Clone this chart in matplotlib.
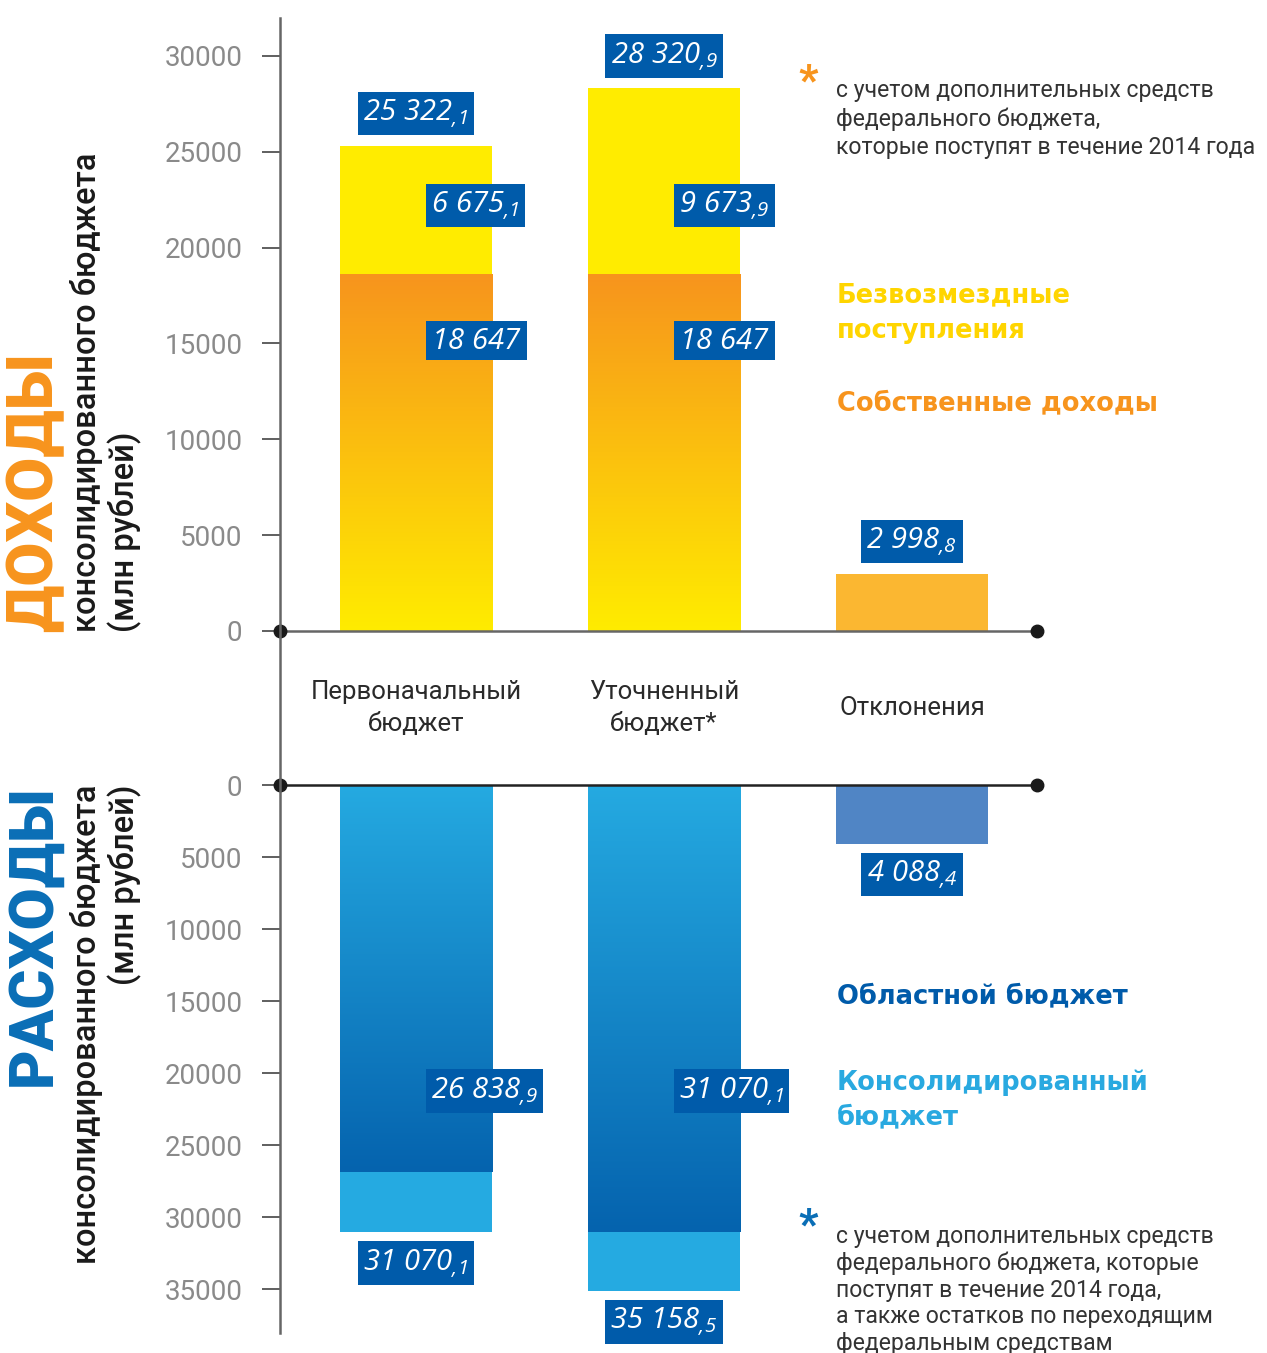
import numpy as np
import matplotlib
matplotlib.use("Agg")
import matplotlib.pyplot as plt
from matplotlib.lines import Line2D
from matplotlib.colors import to_rgb

plt.rcParams['font.family'] = ['Roboto', 'DejaVu Sans']
plt.rcParams['mathtext.fontset'] = 'custom'
plt.rcParams['mathtext.rm'] = 'Open Sans:italic'
plt.rcParams['mathtext.it'] = 'Open Sans:italic'

# --- data -------------------------------------------------------------
categories = ['Первоначальный\nбюджет', 'Уточненный\nбюджет*', 'Отклонения']

own_income = [18647.0, 18647.0]          # собственные доходы
gratis_income = [6675.1, 9673.9]         # безвозмездные поступления
income_total = [25322.1, 28320.9]
income_dev = 2998.8

regional_spend = [26838.9, 31070.1]      # областной бюджет
consolidated_spend = [31070.1, 35158.5]  # консолидированный бюджет
spend_dev = 4088.4

income_labels_total = [r'$25\ 322_{{,}1}$', r'$28\ 320_{{,}9}$', r'$2\ 998_{{,}8}$']
income_labels_gratis = [r'$6\ 675_{{,}1}$', r'$9\ 673_{{,}9}$']
income_labels_own = [r'$18\ 647$', r'$18\ 647$']
spend_labels_regional = [r'$26\ 838_{{,}9}$', r'$31\ 070_{{,}1}$']
spend_labels_total = [r'$31\ 070_{{,}1}$', r'$35\ 158_{{,}5}$', r'$4\ 088_{{,}4}$']

# --- colours ----------------------------------------------------------
ORANGE = '#F7941D'
YELLOW = '#FFEC00'
DEV_ORANGE = '#FBB731'
LIGHT_BLUE = '#25AAE1'
DARK_BLUE = '#0563AE'
DEV_BLUE = '#5085C5'
BOX_BLUE = '#005BAA'
HEAD_FONT = ['DejaVu Sans']

W, H = 1267, 1353
fig = plt.figure(figsize=(W / 100, H / 100), dpi=100)


def px_axes(l, t, r, b):
    return fig.add_axes([l / W, 1 - b / H, (r - l) / W, (b - t) / H])


ax_top = px_axes(280, 18, 1037, 631)
ax_bot = px_axes(280, 785, 1037, 1333)

x = np.arange(3)
bar_w = 0.613
xlim = (-0.548, 2.504)


def gradient_bar(ax, xc, y0, y1, c_start, c_end):
    # c_start at y0, c_end at y1
    bar = ax.bar(xc, y1 - y0, bottom=y0, width=bar_w, color='none', lw=0)[0]
    a = np.array(to_rgb(c_start))
    b = np.array(to_rgb(c_end))
    t = np.linspace(0, 1, 256)[:, None]
    img = (a + (b - a) * t)[:, None, :]
    im = ax.imshow(img, extent=(xc - bar_w / 2, xc + bar_w / 2, y0, y1),
                   origin='lower', aspect='auto', interpolation='bilinear', zorder=2)
    im.set_clip_path(bar)


def box_label(ax, xv, yv, text, ha='center', dy=0):
    ax.annotate(text, (xv, yv), xytext=(0, dy), textcoords='offset points',
                ha=ha, va='center', color='white', fontsize=21,
                bbox=dict(boxstyle='square,pad=0.18', fc=BOX_BLUE, ec='none'),
                zorder=5, annotation_clip=False)


# --- income -----------------------------------------------------------
for i in range(2):
    gradient_bar(ax_top, x[i], 0, own_income[i], YELLOW, ORANGE)
    ax_top.bar(x[i], gratis_income[i], bottom=own_income[i], width=bar_w,
               color=YELLOW, lw=0, zorder=2)
ax_top.bar(x[2], income_dev, width=bar_w, color=DEV_ORANGE, lw=0, zorder=2)

tops = income_total + [income_dev]
for i in range(3):
    box_label(ax_top, x[i], tops[i], income_labels_total[i], dy=23)
for i in range(2):
    box_label(ax_top, x[i] + 0.06, 22200, income_labels_gratis[i], ha='left')
    box_label(ax_top, x[i] + 0.06, 15150, income_labels_own[i], ha='left')

ax_top.set_xlim(*xlim)
ax_top.set_ylim(0, 31980)
ax_top.set_yticks(np.arange(0, 30001, 5000))

# --- spending ---------------------------------------------------------
for i in range(2):
    gradient_bar(ax_bot, x[i], 0, regional_spend[i], LIGHT_BLUE, DARK_BLUE)
    ax_bot.bar(x[i], consolidated_spend[i] - regional_spend[i],
               bottom=regional_spend[i], width=bar_w, color=LIGHT_BLUE, lw=0, zorder=2)
ax_bot.bar(x[2], spend_dev, width=bar_w, color=DEV_BLUE, lw=0, zorder=2)

ends = consolidated_spend + [spend_dev]
for i in range(3):
    box_label(ax_bot, x[i], ends[i], spend_labels_total[i], dy=-22)
for i in range(2):
    box_label(ax_bot, x[i] + 0.06, 21250, spend_labels_regional[i], ha='left')

ax_bot.set_xlim(*xlim)
ax_bot.set_ylim(38050, 0)
ax_bot.set_yticks(np.arange(0, 35001, 5000))

# --- axes styling -----------------------------------------------------
for ax, lc in ((ax_top, '#666666'), (ax_bot, '#222222')):
    for s in ax.spines.values():
        s.set_visible(False)
    ax.set_xticks([])
    ax.tick_params(axis='y', direction='out', length=13, width=1.2, color='#444444',
                   pad=14, labelsize=20, labelcolor='#8a8a8a')
    ax.plot(xlim, [0, 0], color=lc, lw=1.8, marker='o', ms=9,
            mfc='#1a1a1a', mec='#1a1a1a', clip_on=False, zorder=6)

fig.add_artist(Line2D([280 / W, 280 / W], [1 - 18 / H, 1 - 1333 / H],
                      color='#666666', lw=1.8))

for i, cat in enumerate(categories):
    ax_top.text(x[i], -(708 - 631) / 613, cat, transform=ax_top.get_xaxis_transform(),
                ha='center', va='center', fontsize=18.5,
                color='#2a2a2a', linespacing=1.45)

# --- side titles ------------------------------------------------------
fig.text(34 / W, 1 - 632 / H, 'ДОХОДЫ', rotation=90, ha='center', va='bottom',
         fontsize=46, fontweight='black', color=ORANGE)
fig.text(106 / W, 1 - 632 / H, 'консолидированного бюджета\n(млн рублей)', rotation=90,
         ha='center', va='bottom', multialignment='left', fontsize=23.5,
         fontweight='medium', color='#1a1a1a', linespacing=1.15)
fig.text(34 / W, 1 - 785 / H, 'РАСХОДЫ', rotation=90, ha='center', va='top',
         fontsize=44, fontweight='black', color='#0A6EB6')
fig.text(106 / W, 1 - 785 / H, 'консолидированного бюджета\n(млн рублей)', rotation=90,
         ha='center', va='top', multialignment='right', fontsize=23.5,
         fontweight='medium', color='#1a1a1a', linespacing=1.15)

# --- right-hand notes -------------------------------------------------
fig.text(808 / W, 1 - 82 / H, '*', ha='center', va='center', fontsize=30,
         fontweight='black', color=ORANGE)
fig.text(836 / W, 1 - 119 / H,
         'с учетом дополнительных средств\nфедерального бюджета,\n'
         'которые поступят в течение 2014 года',
         ha='left', va='center', fontsize=16.6, color='#333333', linespacing=1.3)
fig.text(837 / W, 1 - 313 / H, 'Безвозмездные\nпоступления', ha='left', va='center',
         family=HEAD_FONT, fontsize=18.5, fontweight='bold', color='#FFD500',
         linespacing=1.45)
fig.text(837 / W, 1 - 403 / H, 'Собственные доходы', ha='left', va='center',
         family=HEAD_FONT, fontsize=18.5, fontweight='bold', color=ORANGE)
fig.text(837 / W, 1 - 996 / H, 'Областной бюджет', ha='left', va='center',
         family=HEAD_FONT, fontsize=18.5, fontweight='bold', color=BOX_BLUE)
fig.text(837 / W, 1 - 1100 / H, 'Консолидированный\nбюджет', ha='left', va='center',
         family=HEAD_FONT, fontsize=18.5, fontweight='bold', color='#29A9E0',
         linespacing=1.45)
fig.text(808 / W, 1 - 1226 / H, '*', ha='center', va='center', fontsize=30,
         fontweight='black', color='#0A6EB6')
fig.text(836 / W, 1 - 1290 / H,
         'с учетом дополнительных средств\nфедерального бюджета, которые\n'
         'поступят в течение 2014 года,\nа также остатков по переходящим\n'
         'федеральным средствам',
         ha='left', va='center', fontsize=16.6, color='#333333', linespacing=1.2)

fig.savefig('out.png', dpi=100)
